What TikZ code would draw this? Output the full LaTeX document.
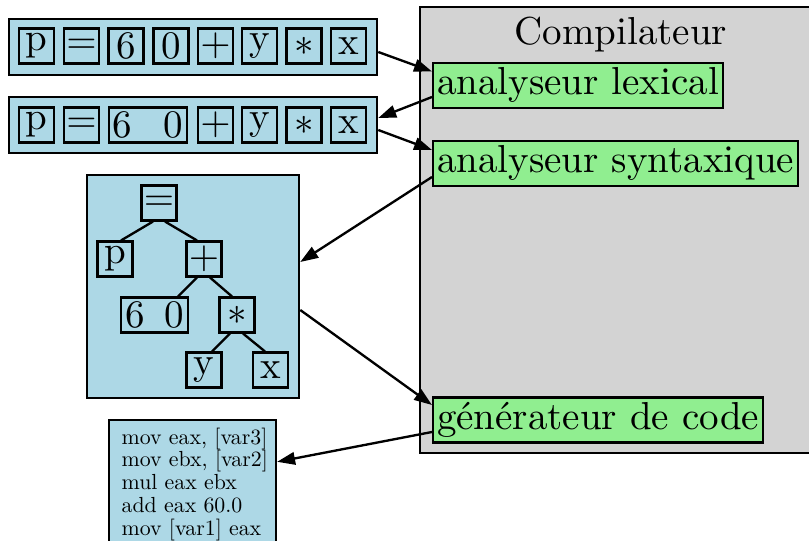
\documentclass[tikz,border=0pt]{standalone}
\usetikzlibrary{arrows.meta,calc}
\definecolor{boxblue}{RGB}{173,216,230}
\definecolor{boxgreen}{RGB}{144,238,144}
\definecolor{boxgray}{RGB}{211,211,211}
\begin{document}
\begin{tikzpicture}[x=0.2564pt,y=-0.2564pt,line width=0.6pt,
  outerbox/.style={draw,fill=boxblue,inner sep=0pt},
  tok/.style={draw,fill=boxblue,inner sep=0pt,minimum width=8.9pt,minimum height=8.9pt},
  comp/.style={draw,fill=boxgreen,inner sep=1pt,anchor=west,text height=7.2pt,text depth=2.4pt},
  flow/.style={-{Triangle[length=4.6pt,width=3.2pt]}}]
\useasboundingbox (0,0) rectangle (809,541);
\clip (0,0) rectangle (809,541);

% compiler frame
\node[draw,fill=boxgray,minimum width=103.1pt,minimum height=114.4pt,inner sep=0pt] (compiler) at (621,230) {};
\node[anchor=base] (title) at (621,45) {Compilateur};
\node[comp] (lex) at (432,85.5) {analyseur lexical};
\node[comp] (syn) at (432,163.5) {analyseur syntaxique};
\node[comp] (gen) at (432,420) {générateur de code};

% token streams
\node[outerbox,minimum width=94.4pt,minimum height=14.4pt] (row1) at (193,47) {};
\node[tok] (a1) at (36.5,46) {p};
\node[tok] (a2) at (81.5,46) {$=$};
\node[tok] (a3) at (126,46) {6};
\node[tok] (a4) at (171,46) {0};
\node[tok] (a5) at (215.5,46) {$+$};
\node[tok] (a6) at (259.5,46) {y};
\node[tok] (a7) at (304,46) {$*$};
\node[tok] (a8) at (348.5,46) {x};
\node[outerbox,minimum width=94.4pt,minimum height=14.4pt] (row2) at (193,125) {};
\node[tok] (b1) at (36.5,125) {p};
\node[tok] (b2) at (81.5,125) {$=$};
\node[tok,minimum width=20pt] (b3) at (148,125) {6\hspace{8pt}0};
\node[tok] (b4) at (215.5,125) {$+$};
\node[tok] (b5) at (259.5,125) {y};
\node[tok] (b6) at (304,125) {$*$};
\node[tok] (b7) at (348.5,125) {x};

% syntax tree
\node[outerbox,minimum width=54.4pt,minimum height=57.2pt] (tree) at (193,286.5) {};
\node[tok] (teq) at (159,203) {$=$};
\node[tok] (tp) at (115,259) {p};
\node[tok] (tplus) at (204,259) {$+$};
\node[tok,minimum width=17.2pt] (tnum) at (154.5,315) {6\hspace{5pt}0};
\node[tok] (tmul) at (237,315) {$*$};
\node[tok] (ty) at (204,370) {y};
\node[tok] (tx) at (270.5,370) {x};
\draw ($(teq.south)+(-6,0)$) -- ($(tp.north)+(6,0)$);
\draw ($(teq.south)+(6,0)$) -- ($(tplus.north)+(-7,0)$);
\draw ($(tplus.south)+(-7,0)$) -- ($(tnum.north)+(23.5,0)$);
\draw ($(tplus.south)+(6,0)$) -- ($(tmul.north)+(-5,0)$);
\draw ($(tmul.south)+(-7,0)$) -- ($(ty.north)+(8,0)$);
\draw ($(tmul.south)+(6,0)$) -- ($(tx.north)+(-5.5,0)$);

% generated code
\node[outerbox,minimum width=42.8pt,minimum height=35.9pt] (asm) at (192.5,490) {};
\node[anchor=north west,inner sep=0pt,align=left,scale=0.56,transform shape,
      font=\fontsize{10}{10.5}\selectfont] (code) at (121,427)
  {mov eax, [var3]\\mov ebx, [var2]\\mul eax ebx\\add eax 60.0\\mov [var1] eax};

% data flow
\draw[flow] ($(row1.east)+(0,5)$) -- ($(lex.west)+(0,-14)$);
\draw[flow] ($(lex.west)+(0,11.5)$) -- ($(row2.east)+(0,-7)$);
\draw[flow] ($(row2.east)+(0,5)$) -- ($(syn.west)+(0,-13.5)$);
\draw[flow] ($(syn.west)+(0,13.5)$) -- ($(tree.east)+(0,-24.5)$);
\draw[flow] ($(tree.east)+(0,23.5)$) -- ($(gen.west)+(0,-15)$);
\draw[flow] ($(gen.west)+(0,12)$) -- ($(asm.north east)+(0,43)$);
\end{tikzpicture}
\end{document}
